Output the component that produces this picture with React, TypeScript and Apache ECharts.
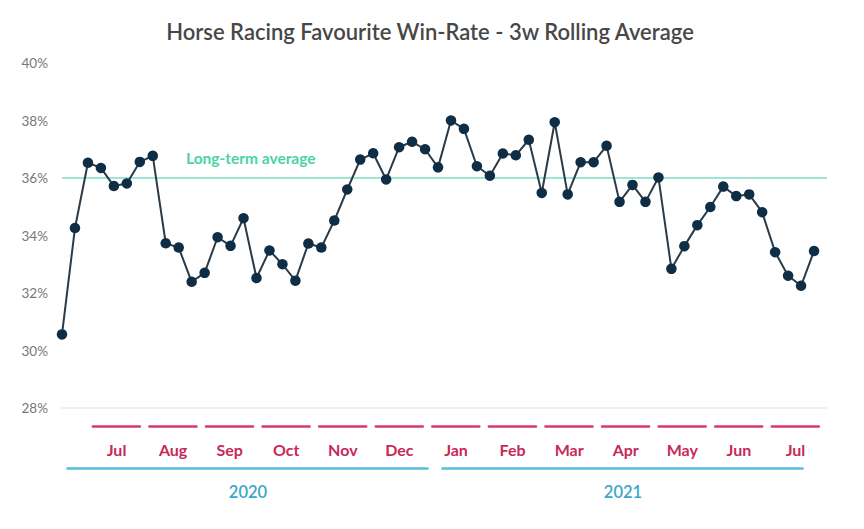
import React, { useEffect, useRef } from "react";
import * as echarts from "echarts";

const winRate: number[] = [
  30.56, 34.26, 36.53, 36.35, 35.72, 35.81, 36.56, 36.77, 33.73, 33.58,
  32.39, 32.7, 33.94, 33.64, 34.6, 32.52, 33.48, 33.0, 32.43, 33.72,
  33.58, 34.52, 35.6, 36.64, 36.86, 35.95, 37.07, 37.26, 37.0, 36.37,
  38.0, 37.71, 36.41, 36.08, 36.85, 36.79, 37.33, 35.48, 37.94, 35.43,
  36.55, 36.55, 37.12, 35.17, 35.76, 35.17, 36.02, 32.84, 33.63, 34.36,
  34.99, 35.7, 35.37, 35.43, 34.81, 33.42, 32.6, 32.25, 33.46,
];
const longTermAverage = 36;
const months: string[] = ["Jul", "Aug", "Sep", "Oct", "Nov", "Dec", "Jan", "Feb", "Mar", "Apr", "May", "Jun", "Jul"];
const years: string[] = ["2020", "2021"];
const yTicks = { min: 28, max: 40, interval: 2 };

const FONT = "Lato, 'Open Sans', sans-serif";

export default function App() {
  const ref = useRef<HTMLDivElement>(null);
  useEffect(() => {
    document.body.style.margin = "0";
    if (!ref.current) return;
    const chart = echarts.init(ref.current, undefined, { renderer: "svg" });
    const monthCell = (823.75 - 88.25) / months.length;
    const monthGap = 9.5;
    const yearCell = (810.5 - 60.5) / years.length;
    const yearGap = 15;
    chart.setOption({
      animation: false,
      backgroundColor: "#ffffff",
      title: {
        text: "Horse Racing Favourite Win-Rate - 3w Rolling Average",
        left: 425,
        textAlign: "center",
        top: 15,
        textStyle: { color: "#474747", fontSize: 22, fontWeight: 600, fontFamily: FONT },
      },
      grid: [
        { left: 62, right: 37, top: 63, bottom: 121 },
        { left: 88.25, right: 864 - 823.75, top: 425, height: 1 },
        { left: 60.5, right: 864 - 810.5, top: 467, height: 1 },
      ],
      xAxis: [
        {
          type: "value",
          gridIndex: 0,
          min: 0,
          max: winRate.length,
          axisLine: { show: true, lineStyle: { color: "#ececec", width: 1.5 } },
          axisTick: { show: false },
          axisLabel: { show: false },
          splitLine: { show: false },
        },
        {
          type: "category",
          gridIndex: 1,
          data: months,
          boundaryGap: true,
          axisLine: {
            show: true,
            lineStyle: {
              color: "#d83a68",
              width: 2.5,
              type: [monthCell - monthGap, monthGap],
              dashOffset: monthCell - monthGap / 2,
            },
          },
          axisTick: { show: false },
          axisLabel: { color: "#c8285a", fontSize: 16, fontWeight: "bold", fontFamily: FONT, margin: 15 },
        },
        {
          type: "category",
          gridIndex: 2,
          data: years,
          boundaryGap: true,
          axisLine: {
            show: true,
            lineStyle: {
              color: "#55bfdc",
              width: 2.5,
              type: [yearCell - yearGap, yearGap],
              dashOffset: yearCell - yearGap / 2,
            },
          },
          axisTick: { show: false },
          axisLabel: { color: "#3aa6c9", fontSize: 16.5, fontWeight: 600, fontFamily: FONT, margin: 15 },
        },
      ],
      yAxis: [
        {
          type: "value",
          gridIndex: 0,
          min: yTicks.min,
          max: yTicks.max,
          interval: yTicks.interval,
          axisLine: { show: false },
          axisTick: { show: false },
          splitLine: { show: false },
          axisLabel: { formatter: "{value}%", color: "#777777", fontSize: 13.5, fontFamily: FONT, margin: 14 },
        },
        { type: "value", gridIndex: 1, show: false },
        { type: "value", gridIndex: 2, show: false },
      ],
      series: [
        {
          type: "line",
          xAxisIndex: 0,
          yAxisIndex: 0,
          data: winRate.map((v, i) => [i, v]),
          symbol: "circle",
          symbolSize: 10.5,
          lineStyle: { color: "#2a3b47", width: 2 },
          itemStyle: { color: "#0f2e45" },
          z: 3,
          markLine: {
            silent: true,
            symbol: "none",
            data: [{ yAxis: longTermAverage }],
            lineStyle: { color: "#7fdcc8", width: 1.5, type: "solid" },
            label: {
              show: true,
              position: "insideStartTop",
              formatter: "Long-term average",
              color: "#4cd3a3",
              fontSize: 15.5,
              fontWeight: "bold",
              fontFamily: FONT,
              distance: [124, 12],
            },
            z: 2,
          },
        },
      ],
    });
    return () => chart.dispose();
  }, []);
  return <div ref={ref} style={{ width: 864, height: 529 }} />;
}
